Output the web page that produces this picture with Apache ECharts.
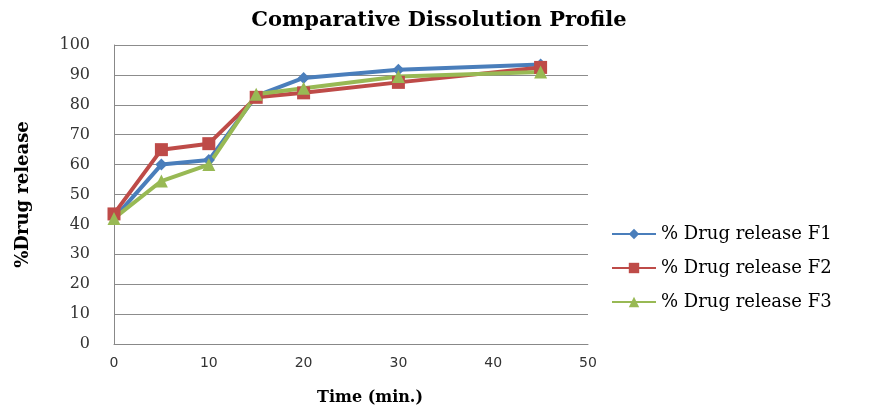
<!DOCTYPE html>
<html>
<head>
    <meta charset="utf-8">
    <script src="https://cdn.jsdelivr.net/npm/echarts@6/dist/echarts.min.js"></script>
</head>
<body style="margin:0;background:#fff;">
<div style="width: 886px; height: 411px;" id="main"></div>
<script type="text/javascript">
    // time points (min.) and % drug release per formulation
    var times = [0, 5, 10, 15, 20, 30, 45];
    var f1 = [42, 60, 61.5, 83, 89, 91.7, 93.5];
    var f2 = [43.5, 65, 67, 82.5, 84, 87.5, 92.5];
    var f3 = [42, 54.5, 60, 83.5, 85.5, 89.5, 91];
    var names = ['% Drug release F1', '% Drug release F2', '% Drug release F3'];
    var yTicks = [0, 10, 20, 30, 40, 50, 60, 70, 80, 90, 100];
    var xTicks = [0, 10, 20, 30, 40, 50];

    function pairs(vals) {
        return times.map(function (t, i) { return [t, vals[i]]; });
    }

    var myChart = echarts.init(document.getElementById('main'));
    var serif = '"DejaVu Serif", "Liberation Serif", serif';

    function line(name, vals, color, symbol, size) {
        return {
            name: name,
            type: 'line',
            data: pairs(vals),
            symbol: symbol,
            symbolSize: size,
            lineStyle: {color: color, width: 4},
            itemStyle: {color: color},
            animation: false
        };
    }

    var opt = {
        title: {
            text: 'Comparative Dissolution Profile',
            left: 434,
            top: 5,
            textAlign: 'center',
            textStyle: {fontFamily: serif, fontSize: 21, fontWeight: 'bold', color: '#000'}
        },
        legend: {
            orient: 'vertical',
            left: 606,
            top: 220,
            itemWidth: 44,
            itemHeight: 13,
            itemGap: 16,
            textStyle: {fontFamily: serif, fontSize: 18, color: '#000'},
            data: names
        },
        grid: {left: 114, top: 45, right: 298, bottom: 67},
        xAxis: {
            type: 'value',
            min: xTicks[0],
            max: xTicks[xTicks.length - 1],
            interval: 10,
            name: 'Time (min.)',
            nameLocation: 'middle',
            nameGap: 46,
            nameTextStyle: {fontFamily: serif, fontSize: 16, fontWeight: 'bold', color: '#000', padding: [0, 0, 0, 38]},
            axisLine: {lineStyle: {color: '#888', width: 1}},
            axisTick: {show: false},
            axisLabel: {fontFamily: '"DejaVu Sans", Verdana, sans-serif', fontSize: 14, color: '#333', margin: 12},
            splitLine: {show: false}
        },
        yAxis: {
            type: 'value',
            min: yTicks[0],
            max: yTicks[yTicks.length - 1],
            interval: 10,
            name: '%Drug release',
            nameLocation: 'middle',
            nameGap: 82,
            nameRotate: 90,
            nameTextStyle: {fontFamily: serif, fontSize: 18, fontWeight: 'bold', color: '#000'},
            axisLine: {show: true, lineStyle: {color: '#888', width: 1}},
            axisTick: {show: false},
            axisLabel: {fontFamily: serif, fontSize: 16, color: '#333', margin: 24},
            splitLine: {lineStyle: {color: '#8c8c8c', width: 1}}
        },
        series: [
            line(names[0], f1, '#4A7EBB', 'diamond', 12),
            line(names[1], f2, '#BE4B48', 'rect', 13),
            line(names[2], f3, '#98B954', 'triangle', 13)
        ]
    };

    myChart.setOption(opt);
</script>
</body>
</html>
